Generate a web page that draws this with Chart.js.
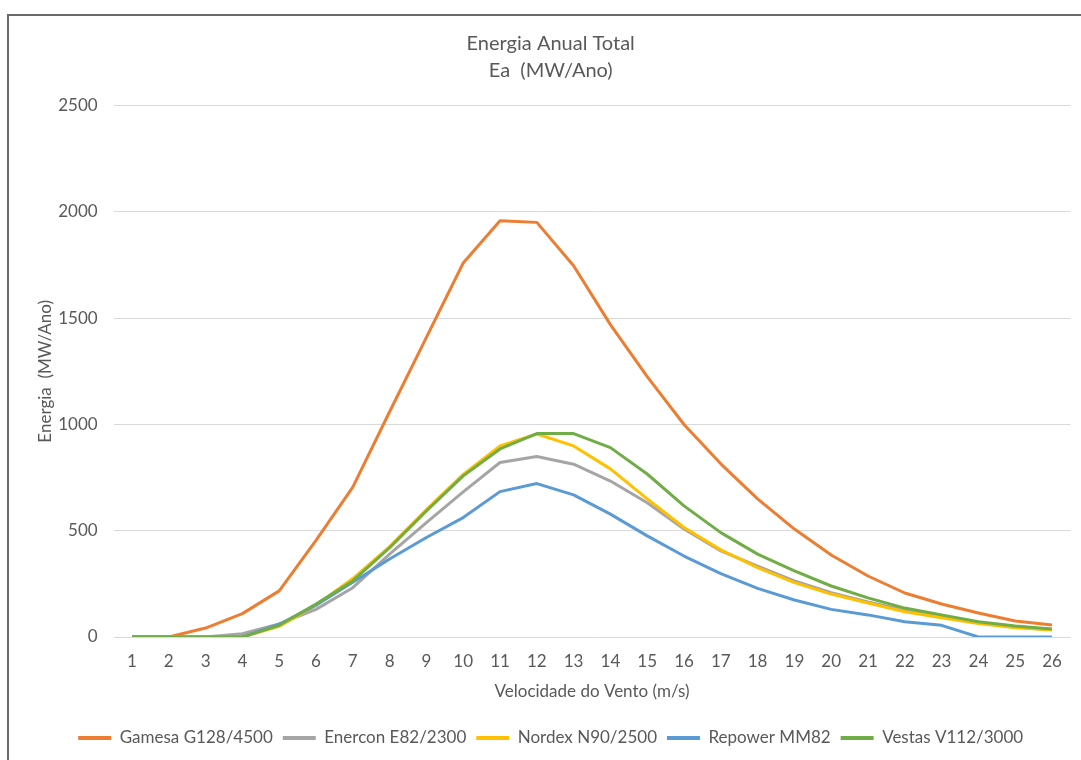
<!DOCTYPE html>
<html>
<head>
<meta charset="utf-8">
<script src="https://cdn.jsdelivr.net/npm/chart.js@4/dist/chart.umd.min.js"></script>
<style>
  html, body { margin: 0; padding: 0; background: #ffffff; overflow: hidden; }
  #wrap { position: relative; width: 1081px; height: 760px; }
  #frame { position: absolute; left: 7px; top: 14px; width: 1200px; height: 900px;
           border-left: 2px solid #6a6a6a; border-top: 2px solid #6a6a6a; pointer-events: none; }
  canvas { position: absolute; left: 0; top: 0; }
</style>
</head>
<body>
<div id="wrap">
  <canvas id="c" width="1081" height="760"></canvas>
  <div id="frame"></div>
</div>
<script>
const categories = ['1','2','3','4','5','6','7','8','9','10','11','12','13','14','15','16','17','18','19','20','21','22','23','24','25','26'];
const seriesNames = ['Gamesa G128/4500','Enercon E82/2300','Nordex N90/2500','Repower MM82','Vestas V112/3000'];
const gamesa  = [0,0,42,110,217,455,705,1060,1410,1760,1959,1951,1747,1470,1225,1000,815,650,508,386,287,207,155,113,75,56];
const enercon = [0,0,0,15,62,130,232,390,538,683,821,849,813,734,632,508,405,334,264,209,165,126,94,68,47,35];
const nordex  = [0,0,0,0,50,150,275,425,600,765,899,955,899,791,650,515,410,326,256,202,160,119,91,63,44,33];
const repower = [0,0,0,0,60,150,258,367,468,562,684,722,669,578,476,381,298,229,174,130,104,72,55,0,0,0];
const vestas  = [0,0,0,0,55,155,264,420,593,758,885,957,957,891,767,617,491,390,311,240,184,136,104,72,52,38];
const yTicks = [0,500,1000,1500,2000,2500];
const colors = ['#ED7D31','#A5A5A5','#FFC000','#5B9BD5','#70AD47'];

const values = [gamesa, enercon, nordex, repower, vestas];
const datasets = values.map((v, i) => ({
  label: seriesNames[i],
  data: v,
  borderColor: colors[i],
  backgroundColor: colors[i],
  borderWidth: 3,
  pointRadius: 0,
  pointHoverRadius: 0,
  tension: 0,
  fill: false,
  borderJoinStyle: 'round',
  order: values.length - 1 - i
}));

const txt = '#595959';
const FONT = 'Lato';

new Chart(document.getElementById('c'), {
  type: 'line',
  data: { labels: categories, datasets },
  options: {
    responsive: false,
    animation: false,
    devicePixelRatio: 1,
    layout: { padding: { left: 31, right: 10.6, top: 29, bottom: 3.5 } },
    plugins: {
      title: {
        display: true,
        text: ['Energia Anual Total', 'Ea  (MW/Ano)'],
        color: txt,
        font: { family: FONT, size: 20, weight: 'normal', lineHeight: 1.35 },
        padding: { top: 1, bottom: 21.7 }
      },
      legend: {
        position: 'bottom',
        labels: {
          color: txt,
          font: { family: FONT, size: 17 },
          boxWidth: 33,
          boxHeight: 4,
          padding: 10,
          sort: (a, b) => a.datasetIndex - b.datasetIndex,
          generateLabels: (chart) => {
            const items = Chart.defaults.plugins.legend.labels.generateLabels(chart);
            items.forEach(it => { it.lineWidth = 0; it.fillStyle = it.strokeStyle; });
            return items;
          }
        }
      },
      tooltip: { enabled: false }
    },
    scales: {
      x: {
        offset: true,
        grid: { display: false, drawTicks: false },
        border: { display: false },
        ticks: { color: txt, font: { family: FONT, size: 17 }, padding: 14, maxRotation: 0, autoSkip: false },
        title: {
          display: true,
          text: 'Velocidade do Vento (m/s)',
          color: txt,
          font: { family: FONT, size: 17 },
          padding: { top: -3.6, bottom: 17.3 }
        }
      },
      y: {
        min: 0,
        max: 2500,
        afterBuildTicks: (scale) => { scale.ticks = yTicks.map(v => ({ value: v })); },
        afterFit: (scale) => { scale.width = 82.6; },
        grid: { color: '#D9D9D9', lineWidth: 1, drawTicks: false },
        border: { display: false },
        ticks: { color: txt, font: { family: FONT, size: 17 }, padding: 16, callback: (v) => String(v) },
        title: {
          display: true,
          text: 'Energia  (MW/Ano)',
          color: txt,
          font: { family: FONT, size: 17 },
          padding: { top: 4, bottom: 4 }
        }
      }
    }
  }
});
</script>
</body>
</html>
